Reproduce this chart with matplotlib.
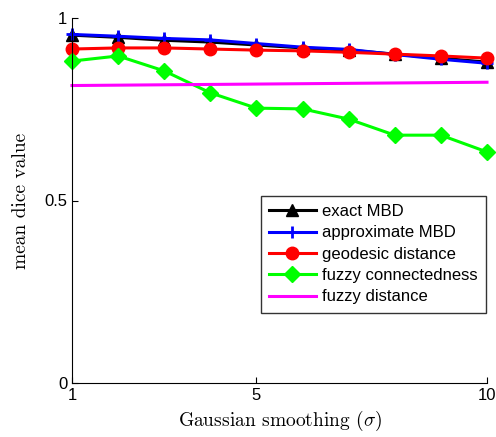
import matplotlib
matplotlib.use("Agg")
import matplotlib.pyplot as plt
import numpy as np

plt.rcParams['font.family'] = ['Liberation Sans', 'DejaVu Sans']
plt.rcParams['mathtext.fontset'] = 'cm'

# data
sigma = np.array([1, 2, 3, 4, 5, 6, 7, 8, 9, 10])
exact_mbd = np.array([0.953, 0.947, 0.939, 0.934, 0.926, 0.918, 0.912, 0.901, 0.890, 0.879])
approx_mbd = np.array([0.955, 0.950, 0.944, 0.940, 0.930, 0.920, 0.914, 0.900, 0.887, 0.876])
geodesic = np.array([0.915, 0.918, 0.918, 0.915, 0.912, 0.910, 0.906, 0.901, 0.896, 0.890])
fuzzy_conn = np.array([0.882, 0.896, 0.855, 0.795, 0.753, 0.751, 0.723, 0.679, 0.679, 0.633])
fuzzy_dist = np.array([0.815, 0.816, 0.817, 0.818, 0.819, 0.820, 0.821, 0.822, 0.823, 0.824])

fig = plt.figure(figsize=(4.96, 4.37), dpi=100)
ax = fig.add_axes([72/496, 1 - 383/437, 415/496, 365/437])

ax.plot(sigma, exact_mbd, color='black', lw=2.2, marker='^', ms=9, label='exact MBD', clip_on=False)
ax.plot(sigma, approx_mbd, color='blue', lw=2.2, marker='+', ms=9, mew=2, label='approximate MBD', clip_on=False)
ax.plot(sigma, geodesic, color='red', lw=2.2, marker='o', ms=9, label='geodesic distance', clip_on=False)
ax.plot(sigma, fuzzy_conn, color='#00ff00', lw=2.2, marker='D', ms=8, label='fuzzy connectedness', clip_on=False)
ax.plot(sigma, fuzzy_dist, color='magenta', lw=2.2, label='fuzzy distance', clip_on=False)

ax.set_xlim(1, 10)
ax.set_ylim(0, 1)
ax.set_xticks([1, 5, 10])
ax.set_yticks([0, 0.5, 1])
ax.set_xticklabels(['1', '5', '10'])
ax.set_yticklabels(['0', '0.5', '1'])
ax.tick_params(direction='in', labelsize=12, length=4)
ax.spines['top'].set_visible(False)
ax.spines['right'].set_visible(False)

ax.set_xlabel(r'Gaussian smoothing $(\sigma)$', fontsize=14, family='cmr10')
ax.set_ylabel('mean dice value', fontsize=14, family='cmr10', labelpad=10)

leg = ax.legend(loc='lower right', bbox_to_anchor=(1.0, 0.19), fontsize=12, frameon=True,
                fancybox=False, edgecolor='black', handlelength=2.8, borderpad=0.5,
                labelspacing=0.38, handletextpad=0.4, borderaxespad=0.05)
leg.get_frame().set_linewidth(1.0)

fig.savefig('out.png', dpi=100)
